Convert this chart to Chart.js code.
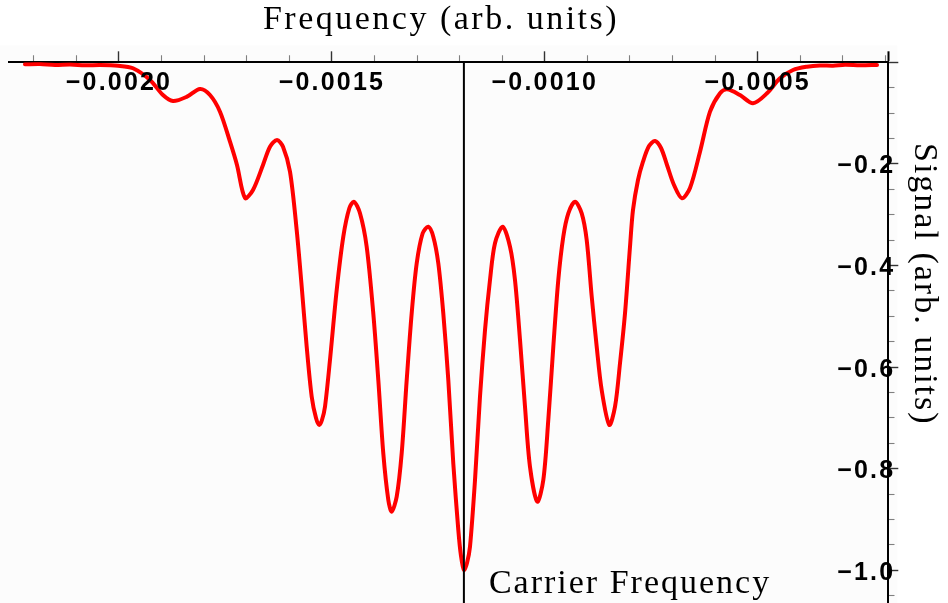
<!DOCTYPE html>
<html>
<head>
<meta charset="utf-8">
<script src="https://cdn.jsdelivr.net/npm/chart.js@4.4.1/dist/chart.umd.min.js"></script>
<style>
  html, body { margin: 0; padding: 0; background: #ffffff; }
  #wrap { width: 948px; height: 603px; position: relative; }
</style>
</head>
<body>
<div id="wrap"><canvas id="spectrum"></canvas></div>
<script>
// Absorption signal across the sideband spectrum (arbitrary units)
const frequency = [
  -0.0022208, -0.0021855, -0.0021503, -0.0021151, -0.0020798, -0.0020446, -0.0020023,
  -0.0019671, -0.0019272, -0.0018967, -0.0018732, -0.0018403, -0.0018098, -0.0017863,
  -0.0017628, -0.0017393, -0.0017229, -0.0017041, -0.0016853, -0.0016618, -0.0016454,
  -0.0016289, -0.0016148, -0.0015984, -0.0015827, -0.0015709, -0.0015592, -0.0015474,
  -0.0015373, -0.0015296, -0.0015233, -0.0015162, -0.0015045, -0.0014887, -0.0014732,
  -0.0014591, -0.0014481, -0.0014340, -0.0014183, -0.0014028, -0.0013910, -0.0013793,
  -0.0013675, -0.0013596, -0.0013478, -0.0013361, -0.0013243, -0.0013126, -0.0013008,
  -0.0012868, -0.0012736, -0.0012619, -0.0012501, -0.0012384, -0.0012266, -0.0012149,
  -0.0012031, -0.0011968, -0.0011898, -0.0011827, -0.0011757, -0.0011639, -0.0011522,
  -0.0011404, -0.0011287, -0.0011170, -0.0010989, -0.0010817, -0.0010700, -0.0010582,
  -0.0010465, -0.0010348, -0.0010176, -0.0010035, -0.0009918, -0.0009800, -0.0009683,
  -0.0009566, -0.0009448, -0.0009291, -0.0009133, -0.0009016, -0.0008898, -0.0008781,
  -0.0008664, -0.0008485, -0.0008351, -0.0008234, -0.0008116, -0.0007999, -0.0007929,
  -0.0007811, -0.0007694, -0.0007553, -0.0007412, -0.0007271, -0.0007130, -0.0006966,
  -0.0006778, -0.0006590, -0.0006355, -0.0006120, -0.0005885, -0.0005721, -0.0005416,
  -0.0005110, -0.0004782, -0.0004476, -0.0004171, -0.0003842, -0.0003537, -0.0003232,
  -0.0002950, -0.0002597, -0.0002198
];
const signal = [
  -0.0039, -0.0033, -0.0053, -0.0043, -0.0059, -0.0053, -0.0067,
  -0.0118, -0.0348, -0.0644, -0.0762, -0.0677, -0.0525, -0.0644,
  -0.0972, -0.1563, -0.2021, -0.2671, -0.2513, -0.2021, -0.1661,
  -0.1529, -0.1661, -0.2153, -0.3301, -0.4416, -0.5597, -0.6581,
  -0.7001, -0.7138, -0.7040, -0.6778, -0.5859, -0.4481, -0.3432,
  -0.2873, -0.2744, -0.2972, -0.3629, -0.4940, -0.6253, -0.7695,
  -0.8614, -0.8845, -0.8550, -0.7695, -0.6253, -0.4940, -0.3956,
  -0.3365, -0.3236, -0.3432, -0.3956, -0.4940, -0.6253, -0.7892,
  -0.9205, -0.9717, -0.9992, -0.9854, -0.9534, -0.8221, -0.6581,
  -0.5269, -0.4285, -0.3562, -0.3236, -0.3629, -0.4285, -0.5466,
  -0.6778, -0.7959, -0.8648, -0.8221, -0.7040, -0.5597, -0.4285,
  -0.3432, -0.2972, -0.2744, -0.2972, -0.3497, -0.4613, -0.5597,
  -0.6450, -0.7138, -0.6778, -0.5926, -0.4940, -0.3629, -0.2907,
  -0.2316, -0.1956, -0.1647, -0.1549, -0.1687, -0.2021, -0.2415,
  -0.2677, -0.2474, -0.1760, -0.0972, -0.0610, -0.0531, -0.0644,
  -0.0807, -0.0610, -0.0315, -0.0152, -0.0087, -0.0063, -0.0067,
  -0.0049, -0.0059, -0.0053
];

// Marker for the carrier
const carrierFrequency = -0.00119;
const carrierLabel = 'Carrier Frequency';

// Axis extents
const xRange = [-0.0022583, -0.0001933];
const yRange = [-1.0642, 0];

// Tick marks (every minor step) and the labelled ones
const xTickValues = [
  -0.0022, -0.0021, -0.0020, -0.0019, -0.0018, -0.0017, -0.0016, -0.0015, -0.0014,
  -0.0013, -0.0012, -0.0011, -0.0010, -0.0009, -0.0008, -0.0007, -0.0006, -0.0005,
  -0.0004, -0.0003, -0.0002
];
const xMajorTicks = [-0.0020, -0.0015, -0.0010, -0.0005];
const xTickLabels = ['\u22120.0020', '\u22120.0015', '\u22120.0010', '\u22120.0005'];

const yTickValues = [
  0, -0.05, -0.10, -0.15, -0.20, -0.25, -0.30, -0.35, -0.40, -0.45, -0.50,
  -0.55, -0.60, -0.65, -0.70, -0.75, -0.80, -0.85, -0.90, -0.95, -1.00, -1.05
];
const yMajorTicks = [0, -0.2, -0.4, -0.6, -0.8, -1.0];
const yTickLabels = ['', '\u22120.2', '\u22120.4', '\u22120.6', '\u22120.8', '\u22121.0'];

const xTitle = 'Frequency (arb. units)';
const yTitle = 'Signal (arb. units)';

function majorIndex(list, v, eps) {
  for (let i = 0; i < list.length; i++) {
    if (Math.abs(list[i] - v) < eps) return i;
  }
  return -1;
}

const TICK_FONT = { family: 'Liberation Sans', size: 25, weight: 'bold' };
const SERIF = '34px "Liberation Serif"';

const decorations = {
  id: 'decorations',
  beforeDraw(chart) {
    const { ctx, chartArea: a } = chart;
    ctx.save();
    ctx.fillStyle = '#fcfcfc';
    ctx.fillRect(0, a.top - 17, a.right + 9, a.bottom - a.top + 17);
    ctx.restore();
  },
  afterDatasetsDraw(chart) {
    // tick labels are drawn after the curve, slightly spaced out
    chart.ctx.letterSpacing = '2.2px';
  },
  afterDraw(chart) {
    const { ctx, chartArea: a, scales } = chart;
    ctx.letterSpacing = '0px';
    ctx.save();
    ctx.fillStyle = '#000000';
    ctx.font = SERIF;
    ctx.textBaseline = 'alphabetic';

    ctx.letterSpacing = '2.5px';
    ctx.textAlign = 'center';
    ctx.fillText(xTitle, a.left + 432, a.top - 33);

    ctx.letterSpacing = '2px';
    ctx.save();
    ctx.translate(a.right + 27, a.top + 222);
    ctx.rotate(Math.PI / 2);
    ctx.textAlign = 'center';
    ctx.fillText(yTitle, 0, 0);
    ctx.restore();

    ctx.textAlign = 'left';
    ctx.fillText(carrierLabel, scales.x.getPixelForValue(carrierFrequency) + 25, a.bottom - 10);
    ctx.restore();
    ctx.letterSpacing = '0px';
  }
};

const signalPoints = frequency.map((f, i) => ({ x: f, y: signal[i] }));
const carrierPoints = [
  { x: carrierFrequency, y: yRange[1] },
  { x: carrierFrequency, y: yRange[0] }
];

new Chart(document.getElementById('spectrum'), {
  type: 'scatter',
  data: {
    datasets: [
      {
        data: carrierPoints,
        showLine: true,
        borderColor: '#000000',
        borderWidth: 2,
        pointRadius: 0,
        tension: 0,
        order: 0
      },
      {
        data: signalPoints,
        showLine: true,
        borderColor: '#ff0000',
        borderWidth: 4,
        pointRadius: 0,
        tension: 0.3,
        borderJoinStyle: 'round',
        borderCapStyle: 'round',
        order: 1
      }
    ]
  },
  options: {
    responsive: true,
    maintainAspectRatio: false,
    animation: false,
    events: [],
    layout: { padding: { top: 51.3, left: 9, right: 49.7, bottom: 0 } },
    plugins: { legend: { display: false }, tooltip: { enabled: false } },
    scales: {
      x: {
        type: 'linear',
        position: 'top',
        min: xRange[0],
        max: xRange[1],
        afterBuildTicks(scale) {
          scale.ticks = xTickValues.concat([xRange[1]]).map(v => ({ value: v }));
        },
        afterFit(scale) {
          scale.height = 11;
          scale.paddingLeft = 0;
          scale.paddingRight = 0;
        },
        border: { display: true, color: '#000000', width: 2 },
        grid: {
          drawOnChartArea: false,
          drawTicks: true,
          tickLength: 11,
          tickColor: ctx => {
            const v = ctx.tick ? ctx.tick.value : 0;
            if (Math.abs(v - xRange[1]) < 1e-9) return '#000000';
            return majorIndex(xMajorTicks, v, 1e-9) >= 0 ? '#333333' : '#808080';
          },
          tickWidth: ctx => {
            const v = ctx.tick ? ctx.tick.value : 0;
            if (Math.abs(v - xRange[1]) < 1e-9) return 2;
            return majorIndex(xMajorTicks, v, 1e-9) >= 0 ? 1.4 : 1.1;
          },
          tickBorderDash: ctx => {
            const v = ctx.tick ? ctx.tick.value : 0;
            if (Math.abs(v - xRange[1]) < 1e-9) return [];
            return majorIndex(xMajorTicks, v, 1e-9) >= 0 ? [] : [0, 4, 20];
          }
        },
        ticks: {
          display: true,
          mirror: true,
          autoSkip: false,
          maxRotation: 0,
          minRotation: 0,
          padding: 6,
          z: 1,
          color: '#000000',
          font: TICK_FONT,
          callback: v => {
            const i = majorIndex(xMajorTicks, v, 1e-9);
            return i >= 0 ? xTickLabels[i] : '';
          }
        }
      },
      y: {
        type: 'linear',
        position: 'right',
        min: yRange[0],
        max: yRange[1],
        afterBuildTicks(scale) {
          scale.ticks = yTickValues.map(v => ({ value: v }));
        },
        afterFit(scale) {
          scale.width = 10;
          scale.paddingTop = 0;
          scale.paddingBottom = 0;
        },
        border: { display: true, color: '#000000', width: 2 },
        grid: {
          drawOnChartArea: false,
          drawTicks: true,
          tickLength: 10,
          tickColor: ctx => {
            const v = ctx.tick ? ctx.tick.value : 0;
            return majorIndex(yMajorTicks, v, 1e-6) >= 0 ? '#333333' : '#808080';
          },
          tickWidth: ctx => {
            const v = ctx.tick ? ctx.tick.value : 0;
            return majorIndex(yMajorTicks, v, 1e-6) >= 0 ? 1.4 : 1.1;
          },
          tickBorderDash: ctx => {
            const v = ctx.tick ? ctx.tick.value : 0;
            return majorIndex(yMajorTicks, v, 1e-6) >= 0 ? [] : [5.5, 20];
          }
        },
        ticks: {
          display: true,
          mirror: true,
          autoSkip: false,
          padding: 7,
          labelOffset: 2.5,
          z: 1,
          color: '#000000',
          font: TICK_FONT,
          callback: v => {
            const i = majorIndex(yMajorTicks, v, 1e-6);
            return i >= 0 ? yTickLabels[i] : '';
          }
        }
      }
    }
  },
  plugins: [decorations]
});
</script>
</body>
</html>
